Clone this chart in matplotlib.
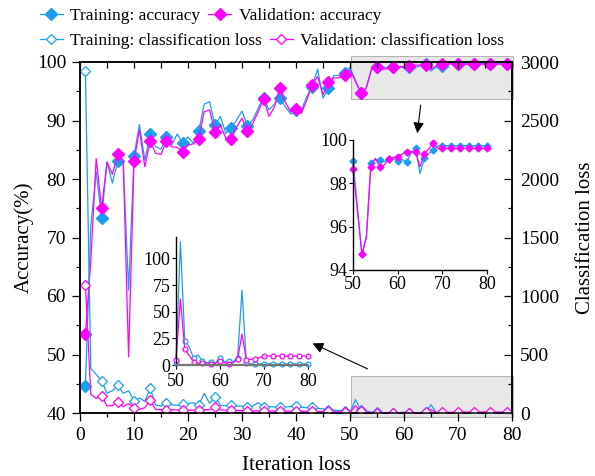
import matplotlib.pyplot as plt
import numpy as np
from matplotlib.patches import Rectangle
from matplotlib.ticker import MultipleLocator

plt.rcParams["font.family"] = ["Liberation Serif", "DejaVu Serif"]

BLUE = "#1a9ff0"
MAGENTA = "#ff00ff"

epochs = np.arange(1, 81)

train_acc = [
    44.6, 72.0, 81.2, 73.3, 82.9, 79.3, 83.1, 83.0, 61.0, 83.9,
    89.3, 83.2, 87.7, 85.5, 85.1, 87.2, 85.8, 87.7, 86.2, 87.2,
    86.1, 88.2, 92.8, 93.2, 89.2, 90.7, 87.8, 88.7, 90.1, 91.6,
    89.1, 90.1, 92.1, 93.9, 91.8, 92.8, 93.8, 92.4, 91.1, 91.8,
    91.8, 94.1, 95.8, 98.8, 93.8, 95.5, 97.7, 97.7, 98.1, 99.05,
    96.9, 94.72, 95.6, 98.92, 99.1, 99.08, 99.0, 99.12, 99.15, 99.05,
    99.1, 99.0, 99.38, 99.65, 98.46, 99.15, 99.38, 99.54, 99.72, 99.74,
    99.74, 99.74, 99.74, 99.74, 99.74, 99.74, 99.74, 99.74, 99.74, 99.74,
]
val_acc = [
    53.5, 66.0, 83.5, 75.0, 82.9, 80.8, 84.2, 83.2, 49.6, 83.0,
    88.4, 82.1, 86.5, 84.4, 84.2, 86.5, 85.5, 85.4, 84.7, 85.8,
    86.0, 86.9, 91.5, 91.8, 88.0, 89.2, 87.0, 86.8, 88.9, 90.4,
    88.2, 89.5, 91.5, 93.7, 90.7, 92.3, 95.6, 93.2, 91.5, 91.9,
    91.2, 93.5, 96.1, 97.5, 94.4, 96.5, 97.3, 97.3, 97.7, 98.66,
    96.7, 94.72, 95.5, 98.77, 99.15, 98.77, 98.85, 99.12, 99.2, 99.23,
    99.35, 99.46, 99.46, 99.46, 98.77, 99.35, 99.6, 99.88, 99.6, 99.62,
    99.62, 99.62, 99.62, 99.62, 99.62, 99.62, 99.62, 99.62, 99.62, 99.62,
]
train_loss = [
    2926, 380, 330, 273, 170, 190, 236, 168, 190, 105,
    128, 100, 211, 68, 60, 88, 70, 65, 74, 80,
    88, 68, 168, 83, 140, 65, 62, 68, 60, 58,
    54, 60, 88, 55, 54, 52, 54, 50, 56, 60,
    50, 45, 48, 40, 36, 26, 24, 22, 18, 2.0,
    115.6, 22.5, 17.0, 6.3, 9.4, 3.8, 2.2, 3.1, 2.2, 6.9,
    3.1, 3.8, 3.1, 6.9, 70.3, 1.6, 1.0, 1.0, 1.0, 1.0,
    1.0, 1.0, 1.0, 1.0, 1.0, 1.0, 1.0, 1.0, 1.0, 1.0,
]
val_loss = [
    1094, 160, 125, 148, 60, 62, 97, 55, 80, 46,
    31, 45, 111, 30, 28, 26, 28, 26, 26, 24,
    24, 26, 30, 28, 50, 26, 24, 26, 22, 20,
    17, 17, 18, 17, 16, 16, 17, 16, 15, 17,
    15, 14, 14, 13, 13, 14, 12, 10, 8, 4.7,
    62.0, 14.7, 9.0, 3.1, 1.6, 1.6, 1.0, 1.0, 1.6, 3.8,
    2.2, 1.0, 2.2, 5.3, 29.0, 4.7, 5.3, 5.9, 6.9, 8.4,
    8.4, 8.4, 8.4, 8.4, 8.4, 8.4, 8.4, 8.4, 8.4, 8.4,
]

# zoomed window shown in the two insets (epochs 50..80)
zoom_start = 49
zoom_epochs = epochs[zoom_start:]

W, H = 595, 476
fig = plt.figure(figsize=(W / 100, H / 100), dpi=100)


def frac(x0, y0, x1, y1):
    # pixel box (top-left origin) -> figure fraction rect
    return [x0 / W, 1 - y1 / H, (x1 - x0) / W, (y1 - y0) / H]


ax = fig.add_axes(frac(80, 62, 512, 413))
ax2 = ax.twinx()

# accuracy on left axis
l1, = ax.plot(epochs, train_acc, color=BLUE, lw=0.9, marker="D", ms=6,
              markevery=3, clip_on=False, zorder=3, label="Training: accuracy")
l2, = ax.plot(epochs, val_acc, color=MAGENTA, lw=0.9, marker="D", ms=6,
              markevery=3, clip_on=False, zorder=3, label="Validation: accuracy")

# loss on right axis
l3, = ax2.plot(epochs, train_loss, color=BLUE, lw=0.9, marker="D", ms=5.5,
               mfc="white", mew=0.9, markevery=3,
               label="Training: classification loss")
l4, = ax2.plot(epochs, val_loss, color=MAGENTA, lw=0.9, marker="D", ms=5.5,
               mfc="white", mew=0.9, markevery=3,
               label="Validation: classification loss")

ax.set_xlim(0, 80)
ax.set_ylim(40, 100)
ax2.set_ylim(0, 3000)

ax.xaxis.set_major_locator(MultipleLocator(10))
ax.xaxis.set_minor_locator(MultipleLocator(5))
ax.yaxis.set_major_locator(MultipleLocator(10))
ax.yaxis.set_minor_locator(MultipleLocator(5))
ax2.yaxis.set_major_locator(MultipleLocator(500))
ax2.yaxis.set_minor_locator(MultipleLocator(250))

ax.tick_params(axis="x", which="both", top=False, direction="out",
               labelsize=14, pad=4, width=0.9)
ax.tick_params(axis="x", which="major", length=6)
ax.tick_params(axis="x", which="minor", length=3)
ax.tick_params(axis="y", which="both", direction="out", labelsize=14,
               pad=4, width=0.9)
ax.tick_params(axis="y", which="major", length=6)
ax.tick_params(axis="y", which="minor", length=3)

ax2.xaxis.set_visible(True)
ax2.tick_params(axis="x", which="both", bottom=False, top=True,
                labelbottom=False, labeltop=False, direction="in",
                width=0.9, length=4)
ax2.tick_params(axis="y", which="both", direction="in", labelsize=14,
                pad=6, width=0.9)
ax2.tick_params(axis="y", which="major", length=6)
ax2.tick_params(axis="y", which="minor", length=3)

for a in (ax, ax2):
    for s in a.spines.values():
        s.set_linewidth(1.1)

ax.set_xlabel("Iteration loss", fontsize=15)
ax.set_ylabel("Accuracy(%)", fontsize=15)
ax2.set_ylabel("Classification loss", fontsize=15)
ax.xaxis.set_label_coords(0.5, -0.122)
ax.yaxis.set_label_coords(-0.108, 0.5)
ax2.yaxis.set_label_coords(1.148, 0.5)

# highlight boxes for the zoomed window
box_style = dict(facecolor="#e8e8e8", edgecolor="#b4b4b4", lw=0.8,
                 clip_on=False, zorder=0.5)
ax.add_patch(Rectangle((50.2, 93.7), 30.0, 7.25, **box_style))
ax.add_patch(Rectangle((50.2, 39.3), 30.0, 7.0, **box_style))

arrow = dict(arrowstyle="-|>", color="black", lw=0.8, mutation_scale=16)
ax.annotate("", xy=(62.4, 87.35), xytext=(63.15, 93.1), arrowprops=arrow,
            annotation_clip=False)
ax.annotate("", xy=(42.6, 52.1), xytext=(53.7, 47.35), arrowprops=arrow,
            annotation_clip=False)

# inset: accuracy 50..80
ins1 = fig.add_axes(frac(353, 140, 487, 270))
ins1.patch.set_alpha(0)
ins1.plot(zoom_epochs, train_acc[zoom_start:], color=BLUE, lw=0.9,
          marker="D", ms=3.5, markevery=2, clip_on=False)
ins1.plot(zoom_epochs, val_acc[zoom_start:], color=MAGENTA, lw=0.9,
          marker="D", ms=3.5, markevery=2, clip_on=False)
ins1.set_xlim(50, 80)
ins1.set_ylim(94, 100)
ins1.set_xticks([50, 60, 70, 80])
ins1.set_yticks([94, 96, 98, 100])

# inset: loss 50..80
ins2 = fig.add_axes(frac(176, 237, 308, 365))
ins2.patch.set_alpha(0)
ins2.plot(zoom_epochs, train_loss[zoom_start:], color=BLUE, lw=0.9,
          marker="o", ms=3.5, mfc="white", mew=0.9, markevery=2,
          clip_on=False)
ins2.plot(zoom_epochs, val_loss[zoom_start:], color=MAGENTA, lw=0.9,
          marker="o", ms=3.5, mfc="white", mew=0.9, markevery=2,
          clip_on=False)
ins2.set_xlim(50, 80)
ins2.set_ylim(0, 120)
ins2.set_xticks([50, 60, 70, 80])
ins2.set_yticks([0, 25, 50, 75, 100])

for a in (ins1, ins2):
    a.spines["top"].set_visible(False)
    a.spines["right"].set_visible(False)
    for s in ("left", "bottom"):
        a.spines[s].set_linewidth(1.0)
    a.tick_params(direction="out", length=3, width=0.8, labelsize=13, pad=1)
ins2.spines["bottom"].set_color("#777777")
ins2.spines["bottom"].set_linewidth(1.6)
ins2.tick_params(axis="x", pad=2.5)

# legend: two rows laid out independently
leg_kw = dict(ncol=2, frameon=False, fontsize=12.5, handlelength=1.3,
              handletextpad=0.45, columnspacing=0.45, borderpad=0,
              borderaxespad=0, loc="center left")
fig.legend(handles=[l1, l2], bbox_to_anchor=(40 / W, 1 - 16 / H), **leg_kw)
fig.legend(handles=[l3, l4], bbox_to_anchor=(40 / W, 1 - 41 / H), **leg_kw)

fig.savefig("out.png", dpi=100)
